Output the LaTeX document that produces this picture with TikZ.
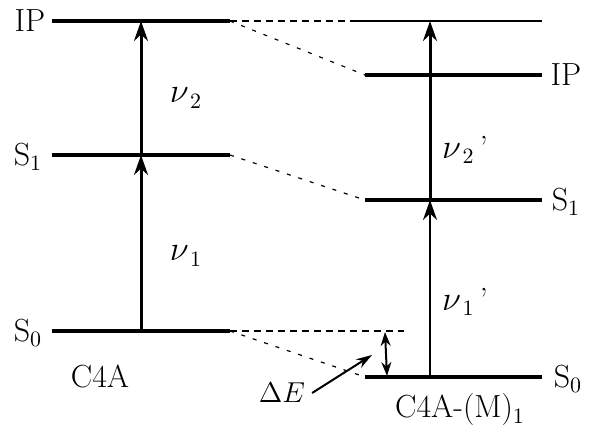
\documentclass[tikz,border=0pt]{standalone}
\usepackage{amsmath}
\usetikzlibrary{arrows.meta}
\tikzset{
  lvl/.style={line width=2.4pt},
  corr/.style={line width=0.6pt, dash pattern=on 3.5pt off 2.5pt},
  slant/.style={line width=0.6pt, dash pattern=on 2pt off 4pt},
  exc/.style={-{Stealth[length=10pt,width=7pt]}, line width=1.5pt},
  lbl/.style={font=\fontsize{16}{19}\selectfont},
}
\begin{document}
\begin{tikzpicture}[x=0.5pt,y=-0.5pt,every node/.style={lbl}]
  \useasboundingbox (0,0) rectangle (589,434);
  % C4A levels
  \coordinate (IPa) at (52,21);  \coordinate (IPb) at (230,21);
  \coordinate (S1a) at (52,155); \coordinate (S1b) at (230,155);
  \coordinate (S0a) at (52,331); \coordinate (S0b) at (230,331);
  % C4A-(M)1 levels
  \coordinate (Ta) at (354,21);  \coordinate (Tb) at (542,21);
  \coordinate (IPc) at (365,75);  \coordinate (IPd) at (542,75);
  \coordinate (S1c) at (365,200); \coordinate (S1d) at (542,200);
  \coordinate (S0c) at (365,377); \coordinate (S0d) at (542,377);
  \coordinate (S0e) at (404,331);

  \draw[lvl] (IPa) -- (IPb);
  \draw[lvl] (S1a) -- (S1b);
  \draw[lvl] (S0a) -- (S0b);
  \draw[lvl] (IPc) -- (IPd);
  \draw[lvl] (S1c) -- (S1d);
  \draw[lvl] (S0c) -- (S0d);
  \draw[line width=1pt] (Ta) -- (Tb);

  % correlation lines
  \draw[corr] (IPb) -- (Ta);
  \draw[corr] (S0b) -- (S0e);
  \draw[slant] (IPb) -- (IPc);
  \draw[slant] (S1b) -- (S1c);
  \draw[slant] (S0b) -- (S0c);

  % excitations
  \draw[exc] (141,331) -- (141,155);
  \draw[exc] (141,155) -- (141,21);
  \draw[exc, line width=1pt] (430,377) -- (430,200);
  \draw[exc] (430,200) -- (430,21);

  % energy shift
  \draw[{Stealth[length=7pt,width=5pt]}-{Stealth[length=7pt,width=5pt]}, line width=1pt]
    (385,332) -- (387,376);
  \node[font=\fontsize{14}{17}\selectfont] (dE) at (282,393) {$\Delta E$};
  \draw[-{Stealth[length=8pt,width=5pt]}, line width=1pt] (dE.east) -- (372,355);

  % labels
  \node (lIPa) at (30,21) {IP};
  \node (lS1a) at (28,157) {S$_1$};
  \node (lS0a) at (28,333) {S$_0$};
  \node (lIPb) at (566,75) {IP};
  \node (lS1b) at (566,202) {S$_1$};
  \node (lS0b) at (568,379) {S$_0$};
  \node (n2) at (186,98) {$\nu_{\,2}$};
  \node (n1) at (186,256) {$\nu_{\,1}$};
  \node (n2p) at (465,150) {$\nu_{\,2}$\,'};
  \node (n1p) at (465,302) {$\nu_{\,1}$\,'};
  \node (mA) at (100,376) {C4A};
  \node (mB) at (460,410) {C4A-(M)$_1$};
\end{tikzpicture}
\end{document}
